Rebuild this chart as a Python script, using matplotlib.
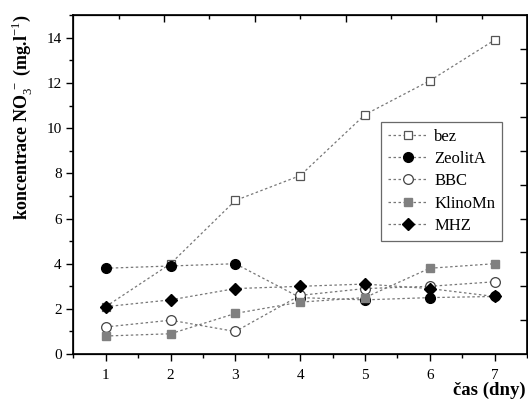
import matplotlib
matplotlib.use("Agg")
import matplotlib.pyplot as plt
from matplotlib.ticker import MultipleLocator, FixedLocator, NullFormatter

plt.rcParams['font.family'] = ['Liberation Serif', 'DejaVu Serif']
plt.rcParams['mathtext.fontset'] = 'custom'
plt.rcParams['mathtext.rm'] = 'Liberation Serif'
plt.rcParams['mathtext.bf'] = 'Liberation Serif:bold'

days = [1, 2, 3, 4, 5, 6, 7]
bez = [2.1, 4.0, 6.8, 7.9, 10.6, 12.1, 13.9]
zeolitA = [3.8, 3.9, 4.0, 2.5, 2.4, 2.5, 2.55]
bbc = [1.2, 1.5, 1.0, 2.6, 2.9, 3.0, 3.2]
klinoMn = [0.8, 0.9, 1.8, 2.3, 2.5, 3.8, 4.0]
mhz = [2.1, 2.4, 2.9, 3.0, 3.1, 2.9, 2.55]

series_names = ["bez", "ZeolitA", "BBC", "KlinoMn", "MHZ"]

fig = plt.figure(figsize=(5.28, 4.01), dpi=100)
ax = fig.add_axes([0.139, 0.117, 0.859, 0.845])

line_kw = dict(linestyle=(0, (2, 2)), color='#777777', linewidth=0.9)
ax.plot(days, bez, marker='s', markersize=6, markerfacecolor='white',
        markeredgecolor='#555555', markeredgewidth=0.9, label=series_names[0], **line_kw)
ax.plot(days, zeolitA, marker='o', markersize=7, markerfacecolor='black',
        markeredgecolor='black', label=series_names[1], **line_kw)
ax.plot(days, bbc, marker='o', markersize=7, markerfacecolor='white',
        markeredgecolor='#444444', markeredgewidth=0.9, label=series_names[2], **line_kw)
ax.plot(days, klinoMn, marker='s', markersize=6, markerfacecolor='#808080',
        markeredgecolor='#808080', label=series_names[3], **line_kw)
ax.plot(days, mhz, marker='D', markersize=6.5, markerfacecolor='black',
        markeredgecolor='black', label=series_names[4], **line_kw)

ax.set_xlim(0.5, 7.5)
ax.set_ylim(0, 15)
ax.xaxis.set_major_locator(FixedLocator(days))
ax.xaxis.set_minor_locator(MultipleLocator(0.5))
ax.yaxis.set_major_locator(FixedLocator([0, 2, 4, 6, 8, 10, 12, 14]))
ax.yaxis.set_minor_locator(MultipleLocator(1))
ax.tick_params(axis='both', which='major', direction='out', length=5, width=1,
               labelsize=11, top=False, right=False)
ax.tick_params(axis='both', which='minor', direction='out', length=3, width=1,
               top=False, right=False)
ax.tick_params(axis='x', pad=6)
for s in ax.spines.values():
    s.set_linewidth(1.2)

# top axis ticks (inward)
axt = ax.twiny()
axt.set_xlim(0.5, 7.5)
axt.xaxis.set_major_locator(FixedLocator([1.9, 3.3, 4.7, 6.1]))
axt.xaxis.set_minor_locator(FixedLocator([1.2, 2.6, 4.0, 5.4, 6.8]))
axt.xaxis.set_major_formatter(NullFormatter())
axt.tick_params(axis='x', which='major', direction='in', length=5, width=1)
axt.tick_params(axis='x', which='minor', direction='in', length=3, width=1)

# right axis ticks (inward)
axr = ax.twinx()
axr.set_ylim(0, 15)
axr.yaxis.set_major_locator(FixedLocator([1.5, 3, 4.5, 6, 7.5, 9, 10.5, 12, 13.5]))
axr.yaxis.set_major_formatter(NullFormatter())
axr.tick_params(axis='y', which='major', direction='in', length=5, width=1)

ax.set_ylabel(r'koncentrace NO$_3^{\,-}$ (mg.l$^{-1}$)', fontsize=13, fontweight='bold')
ax.yaxis.set_label_coords(-0.084, 0.70)
ax.set_xlabel('čas (dny)', fontsize=13.5, fontweight='bold', ha='right')
ax.xaxis.set_label_coords(0.998, -0.08)

leg = ax.legend(loc='upper left', bbox_to_anchor=(0.66, 0.71), fontsize=12,
                frameon=True, fancybox=False, edgecolor='#444444', borderpad=0.4,
                handlelength=2.4, labelspacing=0.38, handletextpad=0.4)
leg.get_frame().set_linewidth(0.9)

fig.savefig('out.png', dpi=100)
